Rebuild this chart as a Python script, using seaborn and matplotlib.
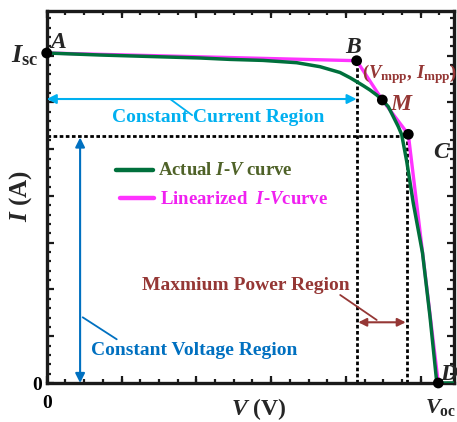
import matplotlib
matplotlib.use("Agg")
import matplotlib.pyplot as plt
import seaborn as sns
import pandas as pd
from matplotlib.ticker import MultipleLocator, FuncFormatter

# ---- data (axes span 0..100 in both directions) ----
actual_v = [0, 13.09, 25.36, 37.64, 45.0, 53.11, 61.38, 67.1, 72.01, 74.47,
            76.11, 77.73, 79.38, 81.02, 82.4, 83.87, 85.1, 86.33, 87.16, 88.39,
            90.01, 92.27, 94.11, 95.75, 96.14, 100]
actual_i = [88.71, 88.17, 87.77, 87.37, 86.99, 86.72, 86.10, 85.03, 83.47, 82.07,
            81.0, 79.92, 78.76, 77.42, 76.08, 74.27, 71.59, 68.90, 66.75, 59.6,
            48.31, 34.95, 17.82, 0.35, 0, 0]
point_names = ["A", "B", "M", "C", "D"]
point_v = [0, 76.1, 82.4, 88.78, 96.14]
point_i = [88.71, 86.64, 76.08, 66.85, 0]
vc_level = 88.39   # right boundary of MPP region (dotted)
ic_level = 66.4    # horizontal dotted level

GREEN = "#00703C"
MAGENTA = "#FF33FF"
LBLUE = "#00B0F0"
DBLUE = "#0070C0"
BROWN = "#953735"
OLIVE = "#4F6228"

sns.set_style("ticks")
plt.rcParams["font.family"] = ["Liberation Serif", "DejaVu Serif"]
plt.rcParams["font.weight"] = "bold"
plt.rcParams["mathtext.fontset"] = "custom"
plt.rcParams["mathtext.rm"] = "Liberation Serif:bold"
plt.rcParams["mathtext.bf"] = "Liberation Serif:bold"
plt.rcParams["mathtext.it"] = "Liberation Serif:italic:bold"

fig = plt.figure(figsize=(4.57, 4.22), dpi=100)
ax = fig.add_axes([46.7 / 457, 1 - 383 / 422, 407.3 / 457, 372 / 422])

df_act = pd.DataFrame({"V": actual_v, "I": actual_i})
df_lin = pd.DataFrame({"V": point_v, "I": point_i})

# dotted guide lines
dot = dict(color="black", lw=2.0, ls=(0, (1.3, 0.9)), zorder=2)
ax.plot([point_v[1], point_v[1]], [0, point_i[1]], **dot)
ax.plot([vc_level, vc_level], [0, point_i[3]], **dot)
ax.plot([0, vc_level], [ic_level, ic_level], **dot)

sns.lineplot(data=df_lin, x="V", y="I", ax=ax, color=MAGENTA, lw=2.4,
             sort=False, estimator=None, zorder=3)
sns.lineplot(data=df_act, x="V", y="I", ax=ax, color=GREEN, lw=2.5,
             sort=False, estimator=None, zorder=4)
ax.lines[-1].set_solid_joinstyle("round")
sns.scatterplot(data=df_lin, x="V", y="I", ax=ax, color="black", s=60,
                edgecolor="none", zorder=6, clip_on=False)

ax.set_xlim(0, 100)
ax.set_ylim(0, 100)

# ticks
ax.xaxis.set_major_locator(MultipleLocator(18.37))
ax.xaxis.set_minor_locator(MultipleLocator(4.592))
ax.yaxis.set_major_locator(MultipleLocator(12.57))
ax.yaxis.set_minor_locator(MultipleLocator(2.514))
fmt = FuncFormatter(lambda v, p: "0" if abs(v) < 1e-6 else "")
ax.xaxis.set_major_formatter(fmt)
ax.yaxis.set_major_formatter(fmt)
ax.tick_params(which="both", direction="in", top=True, right=True,
               width=1.6, colors="#1a1a1a", labelcolor="black")
ax.tick_params(which="major", length=5, labelsize=14)
ax.tick_params(axis="x", which="major", pad=8.5)
ax.tick_params(axis="y", which="major", pad=3.5)
ax.tick_params(which="minor", length=2.8)
for sp in ax.spines.values():
    sp.set_linewidth(2.4)
    sp.set_color("#1a1a1a")
    sp.set_visible(True)

ax.set_xlabel(r"$V$ (V)", fontsize=17, fontweight="bold")
ax.set_ylabel(r"$I$ (A)", fontsize=18, fontweight="bold")
ax.xaxis.set_label_coords(0.52, -0.036)
ax.yaxis.set_label_coords(-0.031, 0.503)

# point labels
lab = dict(fontsize=17, fontweight="bold", fontstyle="italic", va="baseline")
ax.text(0.8, 90.05, "A", ha="left", **lab)
ax.text(75.2, 88.7, "B", ha="center", **lab)
ax.text(84.3, 73.4, "M", ha="left", color=BROWN, **lab)
ax.text(94.85, 60.5, "C", ha="left", **lab)
ax.text(96.56, 0.8, "D", ha="left", **lab)
ax.text(-2.14, 86.3, r"$I_{\mathrm{sc}}$", ha="right", va="baseline", fontsize=19)
ax.text(96.8, -8.06, r"$V_{\mathrm{oc}}$", ha="center", va="baseline", fontsize=16)
ax.text(77.3, 82.0, r"($V_{\mathrm{mpp}}$, $I_{\mathrm{mpp}}$)", ha="left",
        va="baseline", fontsize=13.5, color=BROWN)

# constant current region
ax.annotate("", xy=(0, 76.34), xytext=(point_v[1], 76.34),
            arrowprops=dict(arrowstyle="<|-|>", color=LBLUE, lw=1.5,
                            mutation_scale=14, shrinkA=0, shrinkB=0))
ax.plot([30.3, 35.7], [76.34, 72.0], color=LBLUE, lw=1.3)
ax.text(42.06, 71.24, "Constant Current Region", ha="center", va="center",
        fontsize=14, color=LBLUE)

# constant voltage region
ax.annotate("", xy=(8.2, 0), xytext=(8.2, 66.0),
            arrowprops=dict(arrowstyle="<|-|>", color=DBLUE, lw=1.5,
                            mutation_scale=14, shrinkA=0, shrinkB=0))
ax.plot([8.84, 17.19], [17.66, 11.75], color=DBLUE, lw=1.3)
ax.text(36.3, 8.87, "Constant Voltage Region", ha="center", va="center",
        fontsize=14, color=DBLUE)

# maximum power region
ax.annotate("", xy=(76.5, 16.32), xytext=(88.14, 16.32),
            arrowprops=dict(arrowstyle="<|-|>", color=BROWN, lw=1.5,
                            mutation_scale=12, shrinkA=0, shrinkB=0))
ax.plot([72.06, 81.02], [23.66, 16.94], color=BROWN, lw=1.3)
ax.text(48.9, 26.08, "Maxmium Power Region", ha="center", va="center",
        fontsize=14, color=BROWN)

# legend (manual)
ax.plot([0.170, 0.2617], [0.5726, 0.5726], color=GREEN, lw=3.2, transform=ax.transAxes)
ax.plot([0.180, 0.2634], [0.4973, 0.4973], color=MAGENTA, lw=3.2, transform=ax.transAxes)
ax.text(0.274, 0.559, r"Actual $I$-$V$ curve", transform=ax.transAxes,
        fontsize=13.5, color=OLIVE, va="baseline", ha="left")
ax.text(0.279, 0.4804, r"Linearized  $I$-$V$curve", transform=ax.transAxes,
        fontsize=13.5, color="#F020F0", va="baseline", ha="left")

fig.savefig("out.png", dpi=100)
